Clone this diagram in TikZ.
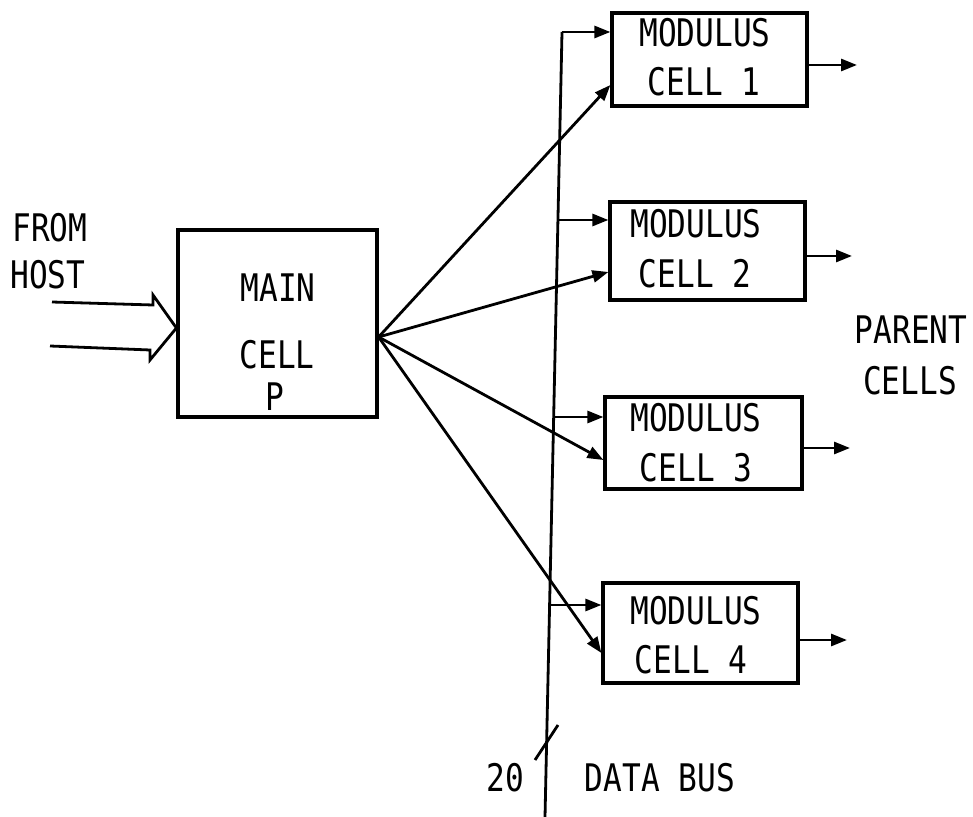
\documentclass[tikz,border=0pt]{standalone}
\usepackage{fontspec}
\usepackage{graphicx}
\setmonofont{DejaVu Sans Mono}
\usetikzlibrary{arrows.meta}
\newcommand{\sx}[1]{\scalebox{0.82}[1]{#1}}
\begin{document}
\begin{tikzpicture}[x=0.5pt,y=-0.5pt,
  lbl/.style={font=\ttfamily\fontsize{19}{24}\selectfont, inner sep=0pt},
  cellbox/.style={draw, line width=1.6pt, rectangle, inner sep=0pt},
  wire/.style={line width=1.4pt},
  arr/.style={wire, -{Triangle[length=8pt,width=6pt]}}]
\useasboundingbox (0,0) rectangle (973,817);

% main cell
\node[cellbox, minimum width=99.5pt, minimum height=93.5pt] (main) at (277.5,323.5) {};
\node[lbl] (tmain) at (278,288) {\sx{MAIN}};
\node[lbl] (tcell) at (277,355) {\sx{CELL}};
\node[lbl] (tp) at (275,397) {\sx{P}};

% host input
\node[lbl] (tfrom) at (50,228) {\sx{FROM}};
\node[lbl] (thost) at (48,275) {\sx{HOST}};
\coordinate (tip) at (main.west |- 0,328);
\draw[wire, line join=miter] (52,302) -- (153,305) -- (153,295) -- (tip) -- (150,360) -- (150,350) -- (50,346);

% modulus cells
\node[cellbox, minimum width=97.5pt, minimum height=46.5pt] (m1) at (709.5,59.5) {};
\node[cellbox, minimum width=97.5pt, minimum height=49pt] (m2) at (707.5,251) {};
\node[cellbox, minimum width=98.5pt, minimum height=46pt] (m3) at (703.5,443) {};
\node[cellbox, minimum width=97.5pt, minimum height=50pt] (m4) at (700.5,633) {};

\node[lbl] (m1a) at (705,33) {\sx{MODULUS}};
\node[lbl] (m1b) at (704,82) {\sx{CELL 1}};
\node[lbl] (m2a) at (696,224) {\sx{MODULUS}};
\node[lbl] (m2b) at (695,274) {\sx{CELL 2}};
\node[lbl] (m3a) at (696,418) {\sx{MODULUS}};
\node[lbl] (m3b) at (696,468) {\sx{CELL 3}};
\node[lbl] (m4a) at (696,611) {\sx{MODULUS}};
\node[lbl] (m4b) at (691,660) {\sx{CELL 4}};

% data bus
\coordinate (b1) at (562,32);
\coordinate (b2) at (557.9,220);
\coordinate (b3) at (553.7,417);
\coordinate (b4) at (549.6,605);
\coordinate (bend) at (545,817);
\draw[wire] (b1) -- (bend);
\draw[arr] (b1) -- (b1 -| m1.west);
\draw[arr] (b2) -- (b2 -| m2.west);
\draw[arr] (b3) -- (b3 -| m3.west);
\draw[arr] (b4) -- (b4 -| m4.west);

% fan-out from main cell
\coordinate (apex) at (main.east |- 0,337);
\draw[arr] (apex) -- (m1.west |- 0,85);
\draw[arr] (apex) -- (m2.west |- 0,272);
\draw[arr] (apex) -- (m3.west |- 0,460);
\draw[arr] (apex) -- (m4.west |- 0,653);

% outputs
\coordinate (o1) at (857,65);
\coordinate (o2) at (852,256);
\coordinate (o3) at (850,448);
\coordinate (o4) at (847,640);
\draw[arr] (m1.east |- o1) -- (o1);
\draw[arr] (m2.east |- o2) -- (o2);
\draw[arr] (m3.east |- o3) -- (o3);
\draw[arr] (m4.east |- o4) -- (o4);

\node[lbl] (tparent) at (911,330) {\sx{PARENT}};
\node[lbl] (tcells) at (910,381) {\sx{CELLS}};

% bus width mark
\coordinate (s1) at (535,760);
\coordinate (s2) at (558,725);
\draw[wire] (s1) -- (s2);
\node[lbl] (t20) at (505,778) {\sx{20}};
\node[lbl] (tbus) at (660,778) {\sx{DATA BUS}};
\end{tikzpicture}
\end{document}
